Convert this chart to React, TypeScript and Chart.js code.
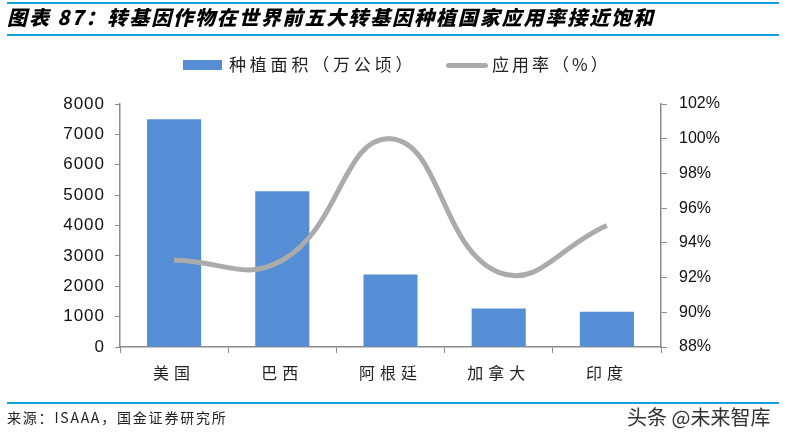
import React, { useEffect, useRef } from "react";
import { Chart, registerables } from "chart.js";

Chart.register(...registerables);

const categories = ["美国", "巴西", "阿根廷", "加拿大", "印度"];
const areaValues = [7500, 5130, 2390, 1270, 1160];
const rateValues = [93, 93, 100, 92.3, 95];
const areaLabel = "种植面积（万公顷）";
const rateLabel = "应用率（%）";
const leftTicks = { min: 0, max: 8000, step: 1000 };
const rightTicks = { min: 88, max: 102, step: 2 };

const BLUE_LINE = "#119FE0";
const BAR_COLOR = "#558ED5";
const LINE_COLOR = "#ABABAB";
const AXIS_COLOR = "#8C8C8C";

const labelSpacing: Record<string, string> = { x: "5px", y: "1px", y1: "0px" };

const letterSpacingPlugin = {
  id: "axisLetterSpacing",
  beforeDraw(chart: any) {
    Object.keys(labelSpacing).forEach((id) => {
      const scale = chart.scales[id];
      if (!scale || scale.__spaced) return;
      const orig = scale.drawLabels.bind(scale);
      scale.drawLabels = (area: any) => {
        const ctx = chart.ctx as any;
        ctx.save();
        ctx.letterSpacing = labelSpacing[id];
        orig(area);
        ctx.restore();
      };
      scale.__spaced = true;
    });
  },
};

export default function App() {
  const canvasRef = useRef<HTMLCanvasElement | null>(null);

  useEffect(() => {
    const canvas = canvasRef.current;
    if (!canvas) return;
    const chart = new Chart(canvas, {
      type: "bar",
      plugins: [letterSpacingPlugin],
      data: {
        labels: categories,
        datasets: [
          {
            type: "line",
            label: rateLabel,
            data: rateValues,
            yAxisID: "y1",
            borderColor: LINE_COLOR,
            backgroundColor: LINE_COLOR,
            borderWidth: 5,
            tension: 0.45,
            pointRadius: 0,
            order: 0,
          },
          {
            type: "bar",
            label: areaLabel,
            data: areaValues,
            yAxisID: "y",
            backgroundColor: BAR_COLOR,
            borderWidth: 0,
            barPercentage: 0.5,
            categoryPercentage: 1,
            order: 1,
          },
        ],
      },
      options: {
        animation: false,
        responsive: false,
        devicePixelRatio: 1,
        layout: { padding: { top: 104, bottom: 0, left: 0, right: 0 } },
        plugins: {
          legend: { display: false },
          tooltip: { enabled: false },
          title: { display: false },
        },
        scales: {
          x: {
            grid: {
              drawOnChartArea: false,
              drawTicks: true,
              tickLength: 6,
              color: AXIS_COLOR,
              offset: true,
            },
            border: { color: AXIS_COLOR, width: 1.5 },
            ticks: {
              color: "#222",
              padding: 10,
              font: { family: "'Noto Sans CJK SC'", size: 16 },
            },
            afterFit: (s: any) => {
              s.height = 437 - 347;
            },
          },
          y: {
            position: "left",
            min: leftTicks.min,
            max: leftTicks.max,
            grid: {
              drawOnChartArea: false,
              drawTicks: true,
              tickLength: 5,
              color: AXIS_COLOR,
            },
            border: { color: AXIS_COLOR, width: 1.5 },
            ticks: {
              stepSize: leftTicks.step,
              color: "#111",
              padding: 10,
              font: { family: "'Liberation Sans', Arial", size: 17 },
              callback: (v: any) => String(v),
            },
            afterFit: (s: any) => {
              s.width = 120;
            },
          },
          y1: {
            position: "right",
            min: rightTicks.min,
            max: rightTicks.max,
            grid: {
              drawOnChartArea: false,
              drawTicks: true,
              tickLength: 6,
              color: AXIS_COLOR,
            },
            border: { color: AXIS_COLOR, width: 1.5 },
            ticks: {
              stepSize: rightTicks.step,
              color: "#111",
              padding: 12,
              font: { family: "'Liberation Sans', Arial", size: 16 },
              callback: (v: any) => `${v}%`,
            },
            afterFit: (s: any) => {
              s.width = 786 - 661;
            },
          },
        },
      },
    });
    return () => chart.destroy();
  }, []);

  const hLine = (top: number): React.CSSProperties => ({
    position: "absolute",
    left: 7,
    width: 772,
    top,
    height: 2,
    background: BLUE_LINE,
  });

  return (
    <div
      style={{
        position: "absolute",
        left: 0,
        top: 0,
        width: 786,
        height: 437,
        background: "#fff",
        overflow: "hidden",
        fontFamily: "'Noto Sans CJK SC', sans-serif",
      }}
    >
      <canvas
        ref={canvasRef}
        width={786}
        height={437}
        style={{ position: "absolute", left: 0, top: 0, width: 786, height: 437 }}
      />
      <div style={hLine(2)} />
      <div
        style={{
          position: "absolute",
          left: 7,
          top: 3,
          fontSize: 20,
          fontWeight: 900,
          fontStyle: "italic",
          letterSpacing: 1.9,
          color: "#000",
          lineHeight: "28px",
          whiteSpace: "nowrap",
        }}
      >
        图表 87：转基因作物在世界前五大转基因种植国家应用率接近饱和
      </div>
      <div style={hLine(34)} />
      <div
        style={{
          position: "absolute",
          left: 183,
          top: 60,
          width: 39,
          height: 10,
          background: BAR_COLOR,
        }}
      />
      <div
        style={{
          position: "absolute",
          left: 229,
          top: 51,
          fontSize: 17,
          letterSpacing: 3.8,
          color: "#222",
          lineHeight: "26px",
          whiteSpace: "nowrap",
        }}
      >
        {areaLabel}
      </div>
      <div
        style={{
          position: "absolute",
          left: 446,
          top: 63,
          width: 42,
          height: 5,
          borderRadius: 3,
          background: LINE_COLOR,
        }}
      />
      <div
        style={{
          position: "absolute",
          left: 492,
          top: 51,
          fontSize: 17,
          letterSpacing: 3,
          color: "#222",
          lineHeight: "26px",
          whiteSpace: "nowrap",
        }}
      >
        {rateLabel}
      </div>
      <div style={hLine(402)} />
      <div
        style={{
          position: "absolute",
          left: 7,
          top: 407,
          fontSize: 14,
          letterSpacing: 1.8,
          color: "#222",
          lineHeight: "20px",
          whiteSpace: "nowrap",
        }}
      >
        来源：ISAAA，国金证券研究所
      </div>
      <div
        style={{
          position: "absolute",
          left: 627,
          top: 403,
          fontSize: 20,
          color: "#333",
          lineHeight: "28px",
          whiteSpace: "nowrap",
        }}
      >
        头条 @未来智库
      </div>
    </div>
  );
}
